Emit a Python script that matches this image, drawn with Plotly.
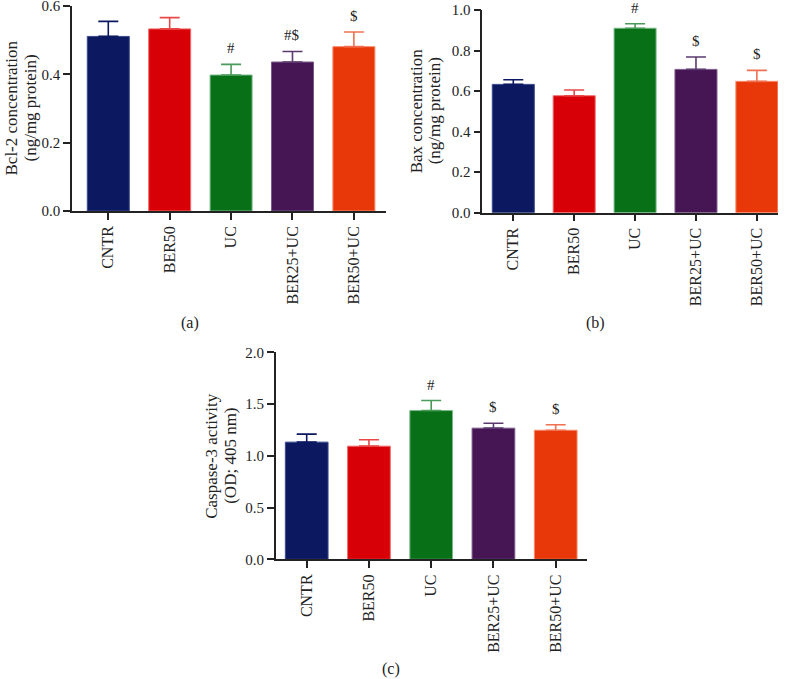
import plotly.graph_objects as go

categories = ["CNTR", "BER50", "UC", "BER25+UC", "BER50+UC"]

bcl2_mean = [0.511, 0.533, 0.398, 0.436, 0.481]
bcl2_sem = [0.044, 0.033, 0.031, 0.031, 0.043]
bcl2_sig = ["", "", "#", "#$", "$"]

bax_mean = [0.633, 0.577, 0.910, 0.707, 0.648]
bax_sem = [0.023, 0.028, 0.022, 0.061, 0.054]
bax_sig = ["", "", "#", "$", "$"]

casp_mean = [1.132, 1.093, 1.437, 1.267, 1.247]
casp_sem = [0.077, 0.062, 0.097, 0.048, 0.053]
casp_sig = ["", "", "#", "$", "$"]

bcl2_title = ["Bcl-2 concentration", "(ng/mg protein)"]
bax_title = ["Bax concentration", "(ng/mg protein)"]
casp_title = ["Caspase-3 activity", "(OD; 405 nm)"]

bar_colors = ["#0c1860", "#d80006", "#087118", "#461554", "#e8380a"]
edge_colors = ["#3a4a8a", "#f06a6a", "#7ab88a", "#7a5a8a", "#f88a6a"]
err_colors = ["#0c1860", "#e84848", "#4a9a5a", "#5a3a6e", "#f07050"]

W, H = 788, 679
FONT = "Liberation Serif"

panels = [
    dict(mean=bcl2_mean, sem=bcl2_sem, sig=bcl2_sig, xa="x", ya="y",
         xd=[72.0, 386.0], yd=[6.0, 211.0], xr=[-0.591, 4.523], yr=[0, 0.6], dt=0.2,
         bw=0.684, title=bcl2_title, tx=[11, 30], label="(a)", lx=190, ly=323),
    dict(mean=bax_mean, sem=bax_sem, sig=bax_sig, xa="x2", ya="y2",
         xd=[482.3, 778.0], yd=[10.0, 212.7], xr=[-0.509, 4.347], yr=[0, 1.0], dt=0.2,
         bw=0.69, title=bax_title, tx=[416, 434], label="(b)", lx=595, ly=323),
    dict(mean=casp_mean, sem=casp_sem, sig=casp_sig, xa="x3", ya="y3",
         xd=[275.7, 586.7], yd=[352.3, 559.3], xr=[-0.498, 4.498], yr=[0, 2.0], dt=0.5,
         bw=0.686, title=casp_title, tx=[212, 231], label="(c)", lx=391, ly=669),
]

fig = go.Figure()
annotations = []
layout = {}

for i, p in enumerate(panels):
    for j, cat in enumerate(categories):
        fig.add_trace(go.Bar(
            x=[cat], y=[p["mean"][j]],
            xaxis=p["xa"], yaxis=p["ya"],
            width=p["bw"],
            marker=dict(color=bar_colors[j], line=dict(color=edge_colors[j], width=1)),
            error_y=dict(type="data", symmetric=False, array=[p["sem"][j]], arrayminus=[0],
                         color=err_colors[j], thickness=1.6, width=10),
            showlegend=False,
        ))
        if p["sig"][j]:
            annotations.append(dict(
                x=cat, y=p["mean"][j] + p["sem"][j], xref=p["xa"], yref=p["ya"],
                text=p["sig"][j], showarrow=False, yshift=16, yanchor="middle",
                font=dict(family=FONT, size=15, color="#222"),
            ))
    xkey = "xaxis" if i == 0 else f"xaxis{i+1}"
    ykey = "yaxis" if i == 0 else f"yaxis{i+1}"
    layout[xkey] = dict(
        domain=[p["xd"][0] / W, p["xd"][1] / W], range=p["xr"], anchor=p["ya"],
        type="category", categoryorder="array", categoryarray=categories,
        showline=True, linecolor="#222", linewidth=1.5,
        ticks="outside", ticklen=7, tickwidth=1.5, tickcolor="#222",
        tickangle=-90, tickfont=dict(family=FONT, size=16, color="#222"),
        showgrid=False, zeroline=False, fixedrange=True, automargin=False,
        ticklabeloverflow="allow",
    )
    layout[ykey] = dict(
        domain=[1 - p["yd"][1] / H, 1 - p["yd"][0] / H], range=p["yr"], anchor=p["xa"],
        dtick=p["dt"], tick0=0, tickformat=".1f",
        showline=True, linecolor="#222", linewidth=1.5,
        ticks="outside", ticklen=7, tickwidth=1.5, tickcolor="#222",
        tickfont=dict(family=FONT, size=15, color="#222"),
        showgrid=False, zeroline=False, fixedrange=True, automargin=False,
        ticklabeloverflow="allow",
    )
    ymid = 1 - (p["yd"][0] + p["yd"][1]) / 2 / H
    for k, line in enumerate(p["title"]):
        annotations.append(dict(
            x=p["tx"][k] / W, y=ymid, xref="paper", yref="paper",
            text=line, textangle=-90, showarrow=False, xanchor="center", yanchor="middle",
            font=dict(family=FONT, size=17, color="#222"),
        ))
    annotations.append(dict(
        x=p["lx"] / W, y=1 - p["ly"] / H, xref="paper", yref="paper",
        text=p["label"], showarrow=False, xanchor="center", yanchor="middle",
        font=dict(family=FONT, size=16, color="#222"),
    ))

fig.update_layout(
    width=W, height=H,
    margin=dict(l=0, r=0, t=0, b=0, pad=0, autoexpand=False),
    paper_bgcolor="white", plot_bgcolor="white",
    barmode="overlay",
    annotations=annotations,
    **layout,
)

fig.write_html(
    "out.html",
    config={"displayModeBar": False},
    post_script="document.body.style.margin='0';document.body.style.padding='0';document.body.style.overflow='hidden';",
)
